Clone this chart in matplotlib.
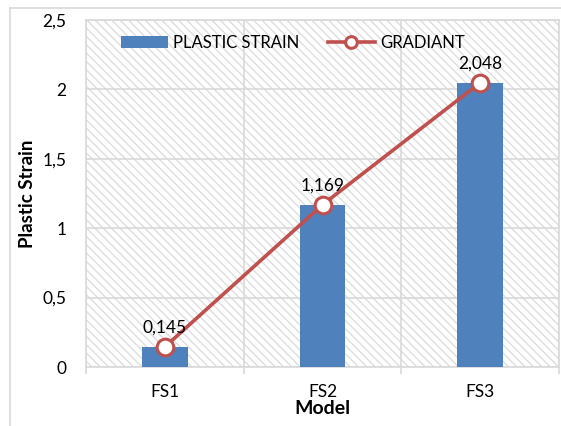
import matplotlib
matplotlib.use("Agg")
import matplotlib.pyplot as plt
from matplotlib.lines import Line2D
from matplotlib.ticker import FuncFormatter

models = ["FS1", "FS2", "FS3"]
plastic_strain = [0.145, 1.169, 2.048]
gradiant = [0.145, 1.169, 2.048]
data_labels = ["0,145", "1,169", "2,048"]
y_ticks = [0, 0.5, 1, 1.5, 2, 2.5]

BAR_BLUE = "#4f81bd"
LINE_RED = "#c0504d"
GRID = "#d9d9d9"

plt.rcParams["font.family"] = ["Lato", "DejaVu Sans"]
plt.rcParams["hatch.color"] = "#dedede"
plt.rcParams["hatch.linewidth"] = 1.0

fig = plt.figure(figsize=(5.61, 4.26), dpi=100)
ax = fig.add_axes([86 / 561, 59 / 426, 473 / 561, 347 / 426])

# outer chart border (top and left visible)
fig.add_artist(Line2D([10 / 561, 1], [418 / 426, 418 / 426], color=GRID, lw=1.2,
                      transform=fig.transFigure))
fig.add_artist(Line2D([10 / 561, 10 / 561], [0, 418 / 426], color=GRID, lw=1.2,
                      transform=fig.transFigure))

x = list(range(len(models)))
ax.set_facecolor("white")
ax.patch.set_hatch("\\\\\\\\")
ax.patch.set_edgecolor("#dedede")

bars = ax.bar(x, plastic_strain, width=0.29, color=BAR_BLUE, zorder=3, label="PLASTIC STRAIN")
line, = ax.plot(x, gradiant, color=LINE_RED, lw=2.6, marker="o", ms=12,
                mfc="white", mec=LINE_RED, mew=2.2, zorder=4, label="GRADIANT")

for xi, yi, txt in zip(x, gradiant, data_labels):
    ax.annotate(txt, (xi, yi), xytext=(0, 8), textcoords="offset points",
                ha="center", va="bottom", fontsize=12.5, zorder=5)

ax.set_xlim(-0.5, 2.5)
ax.set_ylim(0, 2.5)
ax.set_yticks(y_ticks)
ax.yaxis.set_major_formatter(FuncFormatter(lambda v, p: f"{v:g}".replace(".", ",")))
ax.set_xticks(x)
ax.set_xticklabels(models)
ax.set_xticks([-0.5, 0.5, 1.5, 2.5], minor=True)
ax.tick_params(axis="x", which="major", length=0, pad=12, labelsize=12.5)
ax.tick_params(axis="x", which="minor", length=5, color=GRID, width=1.2)
ax.tick_params(axis="y", length=0, pad=14, labelsize=12.5)

ax.grid(axis="y", color=GRID, lw=1.2, zorder=1)
ax.grid(axis="x", which="minor", color=GRID, lw=1.2, zorder=1)
ax.set_axisbelow(True)
for sp in ax.spines.values():
    sp.set_color(GRID)
    sp.set_linewidth(1.2)

ax.set_xlabel("Model", fontsize=14, fontweight="bold", labelpad=0)
ax.set_ylabel("Plastic Strain", fontsize=13.5, fontweight="bold", labelpad=5)

ax.legend([bars, line], ["PLASTIC STRAIN", "GRADIANT"], loc="center",
          bbox_to_anchor=(293 / 561, 383 / 426), bbox_transform=fig.transFigure,
          ncol=2, frameon=False, fontsize=12, handlelength=2.8, columnspacing=1.7,
          handletextpad=0.35, markerscale=0.7)

fig.savefig("out.png", dpi=100)
